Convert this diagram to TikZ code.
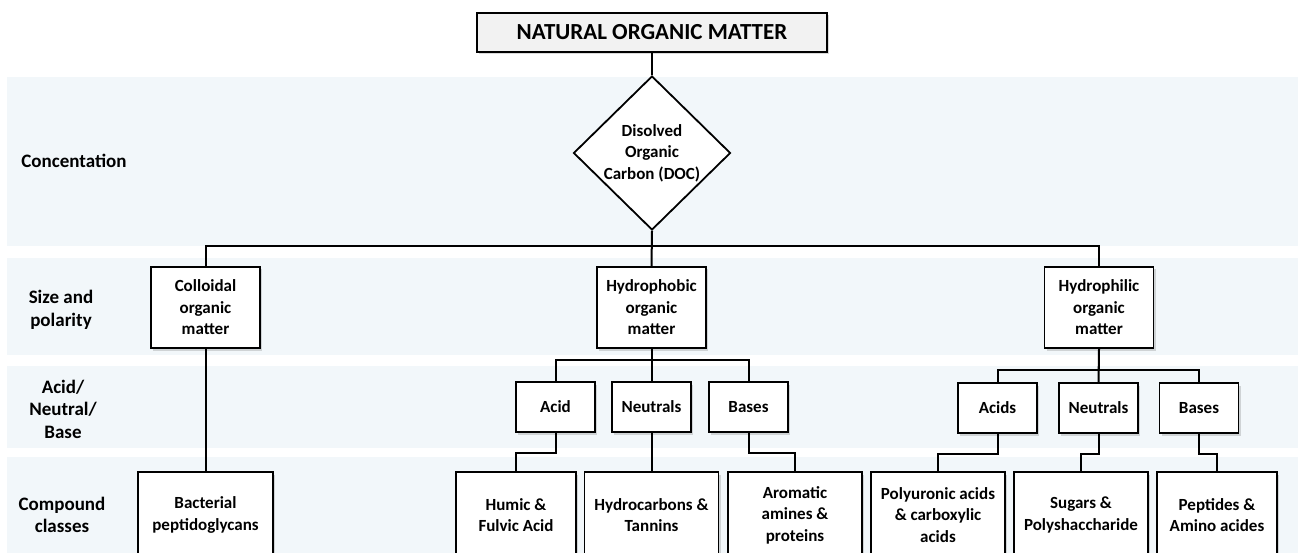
\documentclass[tikz,border=0pt]{standalone}
\usepackage{fontspec}
\setmainfont{Carlito}
\usetikzlibrary{shapes.geometric,shadows}
\definecolor{bandblue}{RGB}{242,247,250}
\newcommand{\nomfont}{\fontsize{17}{21.5}\selectfont\bfseries}
\newcommand{\rowfont}{\fontsize{19}{22.5}\selectfont\bfseries}

\begin{document}
\begin{tikzpicture}[x=1pt,y=-1pt,
	link/.style={line width=2pt},
	box/.style={draw,line width=1.8pt,fill=white,align=center,inner sep=0pt,font=\nomfont,
		drop shadow={shadow xshift=2pt,shadow yshift=-2.5pt,opacity=.3}},
	mid/.style={box,minimum width=109pt,minimum height=81pt},
	small/.style={box,minimum width=79pt,minimum height=50pt},
	leaf/.style={box,minimum height=86pt},
	row/.style={align=center,font=\rowfont}]
		\useasboundingbox (0,0) rectangle (1298,553);
		\clip (0,0) rectangle (1298,553);
		% bands
		\fill[bandblue] (7,77) rectangle (1298,246);
		\fill[bandblue] (7,258) rectangle (1298,355);
		\fill[bandblue] (7,366) rectangle (1298,448);
		\fill[bandblue] (7,457) rectangle (1298,553);
		% row labels
		\node[row] (lconc) at (74,161) {Concentation};
		\node[row] (lsize) at (61,310) {Size and\\polarity};
		\node[row] (lacid) at (63,409) {Acid/\\Neutral/\\Base};
		\node[row] (lcomp) at (62,515) {Compound\\classes};
		% top
		\node[box,fill=black!5,minimum width=350pt,minimum height=39pt,font=\fontsize{23}{28}\selectfont\bfseries] (nom) at (652,32.5) {NATURAL ORGANIC MATTER};
		\node[draw,line width=1.8pt,fill=white,diamond,inner sep=0pt,minimum width=157pt,minimum height=150pt,align=center,font=\nomfont] (doc) at (652,153) {Disolved\\Organic\\Carbon (DOC)};
		% size and polarity
		\node[mid] (coll) at (205.5,307.5) {Colloidal\\organic\\matter};
		\node[mid] (phob) at (651.5,307.5) {Hydrophobic\\organic\\matter};
		\node[mid] (phil) at (1099,307.5) {Hydrophilic\\organic\\matter};
		% acid / neutral / base
		\node[small] (phobA) at (555.5,407) {Acid};
		\node[small] (phobN) at (651.5,407) {Neutrals};
		\node[small] (phobB) at (748.5,407) {Bases};
		\node[small] (philA) at (997.5,408) {Acids};
		\node[small] (philN) at (1098.5,408) {Neutrals};
		\node[small] (philB) at (1199,408) {Bases};
		% compound classes
		\node[leaf,minimum width=135pt] (bact) at (205.5,515) {Bacterial\\peptidoglycans};
		\node[leaf,minimum width=120pt] (humic) at (516,515) {Humic \&\\Fulvic Acid};
		\node[leaf,minimum width=134pt] (hydro) at (651.5,515) {Hydrocarbons \&\\Tannins};
		\node[leaf,minimum width=134pt] (arom) at (795,515) {Aromatic\\amines \&\\proteins};
		\node[leaf,minimum width=134pt] (poly) at (938,515) {Polyuronic acids\\\& carboxylic\\acids};
		\node[leaf,minimum width=134pt] (sugar) at (1081,515) {Sugars \&\\Polyshaccharide};
		\node[leaf,minimum width=120pt] (pept) at (1217,515) {Peptides \&\\Amino acides};
		% connectors
		\draw[link] (nom.south) -- (doc.north);
		\draw[link] (doc.south) -- (phob.north);
		\draw[link] (doc.south) -- ++(0,15) coordinate (j1) -| (coll.north);
		\draw[link] (j1) -| (phil.north);
		\draw[link] (phob.south) -- (phobN.north);
		\draw[link] (phob.south) -- ++(0,11) coordinate (j2) -| (phobA.north);
		\draw[link] (j2) -| (phobB.north);
		\draw[link] (phil.south) -- (philN.north);
		\draw[link] (phil.south) -- ++(0,21) coordinate (j3) -| (philA.north);
		\draw[link] (j3) -| (philB.north);
		\draw[link] (coll.south) -- (bact.north);
		\draw[link] (phobA.south) -- ++(0,20) -| (humic.north);
		\draw[link] (phobN.south) -- (hydro.north);
		\draw[link] (phobB.south) -- ++(0,20) -| (arom.north);
		\draw[link] (philA.south) -- ++(0,20) -| (poly.north);
		\draw[link] (philN.south) -- ++(0,20) -| (sugar.north);
		\draw[link] (philB.south) -- ++(0,20) -| (pept.north);
	\end{tikzpicture}
\end{document}
